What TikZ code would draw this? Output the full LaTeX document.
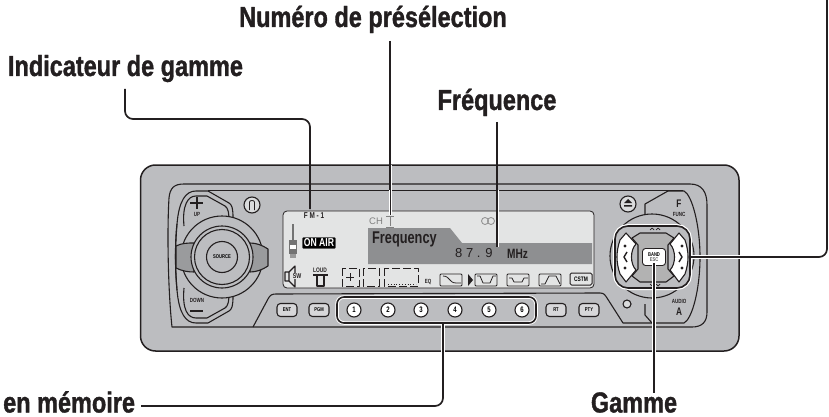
\documentclass[tikz,border=0pt]{standalone}
\usepackage{fontspec}
\setmainfont{Liberation Sans}
\newfontfamily\lab[FakeStretch=0.81,FakeBold=1.2]{Liberation Sans Bold}
\newfontfamily\sml[FakeStretch=0.75]{Liberation Sans Bold}
\definecolor{body}{HTML}{BCBDC0}
\definecolor{ink}{HTML}{231F20}
\definecolor{lcd}{HTML}{E3E4E4}
\definecolor{band}{HTML}{8E8F91}
\begin{document}
\begin{tikzpicture}[x=1pt,y=-1pt,line join=round,
  label/.style={font=\lab\fontsize{29}{29}\selectfont,text=ink,inner sep=0pt,anchor=base},
  edge/.style={draw=ink,line width=1.1pt},
  thin edge/.style={draw=ink,line width=.8pt},
  leader/.style={draw=ink,line width=1.7pt,rounded corners=8pt},
  halo/.style={draw=white,line width=3pt},
  tiny/.style={font=\sml\fontsize{6}{6}\selectfont,text=ink,inner sep=0pt},
  minor/.style={font=\sml\fontsize{8}{8}\selectfont,text=ink,inner sep=0pt},
  softkey/.style={draw=ink,line width=1.1pt,fill=body!60!white,rounded corners=3.5pt,minimum width=20pt,minimum height=13pt,inner sep=0pt,font=\sml\fontsize{5.5}{5.5}\selectfont},
  preset/.style={circle,draw=ink,line width=1.1pt,fill=white,minimum size=14pt,inner sep=0pt,font=\sml\fontsize{8}{8}\selectfont},
  eqkey/.style={draw=ink,line width=.8pt,rounded corners=1pt,fill=lcd,minimum width=22pt,minimum height=12pt,inner sep=0pt}]
\useasboundingbox (0,0) rectangle (829,417);
\fill[white] (0,0) rectangle (829,417);
% body
\draw[fill=body,draw=ink,line width=1.5pt,rounded corners=15pt] (140.5,165) rectangle (739,351);
% panel outlines
\draw[edge] (172,327) .. controls (168,290) and (167,230) .. (169,198) .. controls (170,188) and (174,184) .. (184,184) -- (690,184) .. controls (702,184) and (707,192) .. (707,205) -- (707,312) .. controls (707,322) and (702,327) .. (692,327) -- cycle;
\draw[edge] (208,190.5) -- (683,190.5);
\draw[edge] (668,191) -- (645,204) -- (645,214);
\draw[edge] (668,191) -- (684,191) .. controls (692,195) and (700,225) .. (700,257) .. controls (700,290) and (692,319) .. (684,323) -- (652,323) -- (645,315) -- (645,304);
\draw[edge] (253,327) -- (268,299) .. controls (270,295) and (272,294) .. (276,294) -- (600,293) .. controls (604,293) and (605,295) .. (607,298) -- (623,323) -- (652,323);
% up/down key
\draw[edge] (177,290) .. controls (175,265) and (175,240) .. (177,224) .. controls (179,200) and (186,191) .. (196,191) -- (208,191) -- (229,203) .. controls (232,205) and (233,208) .. (233,218);
\draw[edge] (177,224) .. controls (175,250) and (175,270) .. (177,290) .. controls (179,314) and (186,323) .. (196,323) -- (208,323) -- (229,311) .. controls (232,309) and (233,306) .. (233,296);
\draw[edge] (184,226) .. controls (182,205) and (188,196) .. (196,196) -- (207,196) -- (225,206) .. controls (228,208) and (229,212) .. (229,222);
\draw[edge] (184,288) .. controls (182,310) and (188,318) .. (196,318) -- (207,318) -- (225,308) .. controls (228,306) and (229,302) .. (229,292);
\draw[edge] (190,203) -- (203,203) (197,197) -- (197,209);
\draw[edge] (190,311) -- (203,311);
\node[tiny] (up) at (197,214) {UP};
\node[tiny] (down) at (197,300) {DOWN};
% knob rings and wings
\node[circle,edge,fill=body,minimum size=82pt,inner sep=0pt] (knobA) at (222,257) {};
\draw[edge,fill=body!82!black] (176,246) .. controls (182,243) and (188,243) .. (194,243) -- (194,272) .. controls (188,272) and (182,271) .. (176,268) -- cycle;
\draw[edge,fill=body!82!black] (268,249) .. controls (262,245) and (256,243) .. (250,243) -- (250,272) .. controls (256,272) and (262,270) .. (268,266) -- cycle;
\node[circle,edge,fill=body,minimum size=62pt,inner sep=0pt] (knobB) at (222,257) {};
\node[circle,edge,fill=body,minimum size=55pt,inner sep=0pt] (knobC) at (222,257) {};
\node[circle,edge,fill=body,minimum size=31pt,inner sep=0pt,font=\sml\fontsize{5.5}{5.5}\selectfont] (source) at (222,257) {SOURCE};
\node[circle,edge,fill=body!55!white,minimum size=16pt,inner sep=0pt] (power) at (252,205) {};
\draw[thin edge] (249.5,210) -- (249.5,202) .. controls (249.5,200) and (254.5,200) .. (254.5,202) -- (254.5,210);
% display
\draw[draw=ink,line width=.8pt,fill=lcd,rounded corners=4pt] (283,211) rectangle (594,288);
\fill[band] (368,228) -- (450,228) -- (462,243) -- (592,243) -- (592,264) -- (368,264) -- cycle;
\node[minor,font=\sml\fontsize{8.5}{8.5}\selectfont] (fm) at (314,216) {F M - 1};
\node[font=\fontsize{9.5}{9.5}\selectfont,text=black!50,inner sep=0pt] (ch) at (376,221) {CH};
\draw[draw=black!50,line width=.6pt] (386,216) -- (394,216) (390,216) -- (390,226) (386,227) -- (394,227);
\draw[draw=black!45,line width=.8pt] (485,221) circle (3.5pt) (491,221) circle (3.5pt);
\node[font=\sml\fontsize{17}{17}\selectfont,text=ink,inner sep=0pt,anchor=west] (freqword) at (372,239) {Frequency};
\node[font=\fontsize{13}{13}\selectfont,text=ink,inner sep=0pt,anchor=west] (freqval) at (455,253) {8 7 . 9};
\node[font=\sml\fontsize{13.5}{13.5}\selectfont,text=ink,inner sep=0pt,anchor=west] (mhz) at (507,254) {MHz};
% on air
\draw[draw=black!55,line width=1.2pt] (293,224) -- (293,240);
\fill[black!55] (289,240) rectangle (297,254);
\fill[white] (290,245) rectangle (296,249);
\fill[black!40] (290,254) rectangle (296,258);
\node[draw=black!60,fill=black,text=white,font=\sml\fontsize{11.5}{11.5}\selectfont,inner sep=1.5pt,rounded corners=1pt] (onair) at (319,243) {ON AIR};
% speaker
\draw[edge] (285,272) rectangle (289,281) (289,272) -- (295,266) -- (295,287) -- (289,281);
\node[tiny,font=\sml\fontsize{7}{7}\selectfont,fill=lcd,inner sep=.5pt] (sw) at (297,276) {SW};
\node[tiny,font=\sml\fontsize{6.5}{6.5}\selectfont] (loud) at (320,270) {LOUD};
\draw[edge] (313,275) -- (328,275) (317,275) -- (317,286) -- (324,286) -- (324,275);
% sound field brackets
\draw[thin edge,dash pattern=on 8pt off 3pt] (342,268) rectangle (359,286);
\draw[thin edge] (346,277) -- (354,277) (350,273) -- (350,281);
\draw[thin edge,dash pattern=on 8pt off 3pt] (363,268) rectangle (379,286);
\draw[thin edge,dash pattern=on 8pt off 3pt] (384,268) rectangle (418,286);
\draw[thin edge,dotted] (388,284) -- (416,284);
\node[tiny] (eq) at (428,282) {EQ};
% eq curves
\node[eqkey] (eqA) at (451,280) {};
\draw[thin edge] (443,276) .. controls (450,276) and (449,283) .. (456,283) -- (461,283);
\fill[ink] (468,274) -- (473,280) -- (468,286) -- cycle;
\node[eqkey] (eqB) at (486,280) {};
\draw[thin edge] (477,276) -- (480,276) -- (483,283) -- (490,283) -- (493,276) -- (496,276);
\node[eqkey] (eqC) at (518,280) {};
\draw[thin edge] (509,278) -- (512,278) -- (514,282) -- (522,282) -- (524,278) -- (528,278);
\node[eqkey] (eqD) at (550,280) {};
\draw[thin edge] (541,284) -- (545,284) -- (549,276) -- (556,276) -- (560,284);
\node[draw=ink,line width=1pt,rounded corners=1.5pt,fill=lcd,minimum width=22pt,minimum height=12pt,inner sep=0pt,font=\sml\fontsize{6.5}{6.5}\selectfont] (cstm) at (581,279) {CSTM};
% lower keys
\node[softkey] (ent) at (287,310) {ENT};
\node[softkey] (pgm) at (319,310) {PGM};
\node[softkey] (rt) at (556,310) {RT};
\node[softkey] (pty) at (589,310) {PTY};
\draw[draw=white,line width=3.5pt,rounded corners=7pt] (337,297) rectangle (536,323);
\draw[draw=ink,line width=1.6pt,rounded corners=7pt] (337,297) rectangle (536,323);
\foreach \n/\x in {1/354,2/388,3/421,4/455,5/489,6/522}
  \node[preset] (p\n) at (\x,310) {\n};
\node[circle,edge,fill=body!55!white,minimum size=8pt,inner sep=0pt] (dot) at (627,304) {};
% right cluster
\node[circle,edge,minimum size=84pt,fill=body,inner sep=0pt] (ringA) at (652,256) {};
\draw[draw=white,line width=4pt,rounded corners=13pt] (615,226) rectangle (690,288);
\draw[draw=ink,line width=1.6pt,rounded corners=13pt,fill=body] (615,226) rectangle (690,288);
\draw[edge,fill=white] (620,240) -- (626,233) -- (636,244) .. controls (630,250) and (630,264) .. (636,270) -- (626,282) -- (620,274) .. controls (616,262) and (616,252) .. (620,240) -- cycle;
\draw[edge,fill=white] (685,240) -- (679,233) -- (670,244) .. controls (676,250) and (676,264) .. (670,270) -- (679,282) -- (685,274) .. controls (689,262) and (689,252) .. (685,240) -- cycle;
\draw[edge,fill=black!30] (632,238) -- (640,233) -- (666,233) -- (674,238) -- (668,245) -- (668,269) -- (674,276) -- (666,282) -- (640,282) -- (632,276) -- (638,269) -- (638,245) -- cycle;
\fill[ink] (625,246) circle (1.6pt) (625,268) circle (1.6pt) (682,246) circle (1.6pt) (682,268) circle (1.6pt);
\draw[ink,line width=1.4pt] (627,252) -- (624,257) -- (627,262) (679,252) -- (682,257) -- (679,262);
\draw[ink,line width=.7pt] (650,230) -- (652,228) -- (654,230) (656,230) -- (658,228) -- (660,230) (650,284) -- (652,286) -- (654,284) (656,284) -- (658,286) -- (660,284);
\node[draw=ink,line width=.9pt,fill=white,rounded corners=3pt,minimum width=23pt,minimum height=17pt,inner sep=0pt,align=center,font=\sml\fontsize{5.5}{6}\selectfont] (bandkey) at (654,257) {BAND\\[-.5pt]{\color{black!60}ESC}};
\node[circle,edge,fill=body!55!white,minimum size=16pt,inner sep=0pt] (eject) at (628,204) {};
\fill[ink] (624,203) -- (628,199) -- (632,203) -- cycle (624,205) rectangle (632,206.5);
\node[font=\sml\fontsize{11}{11}\selectfont,text=ink,inner sep=0pt] (keyF) at (679,204) {F};
\node[tiny] (func) at (679,214) {FUNC};
\node[tiny] (audio) at (679,301) {AUDIO};
\node[font=\sml\fontsize{11}{11}\selectfont,text=ink,inner sep=0pt] (keyA) at (679,312) {A};
% labels
\node[label] (numero) at (373,27) {Numéro de présélection};
\node[label] (indic) at (125.5,76) {Indicateur de gamme};
\node[label] (frequence) at (497,110) {Fréquence};
\node[label] (gamme) at (634,412.5) {Gamme};
\node[label,anchor=base west] (memoire) at (3,412.5) {en mémoire};
% leader ends
\coordinate (indicEnd) at (125,89);
\coordinate (indicTip) at (310,209);
\coordinate (numTop) at (390,41);
\coordinate (numTip) at (390,215);
\coordinate (freqTop) at (497,122);
\coordinate (freqTip) at (497,247);
\coordinate (gamTip) at (654,263);
\coordinate (gamBot) at (654,393);
\coordinate (memTip) at (443,324);
\coordinate (memStart) at (141,406);
\coordinate (topR) at (827,0);
\coordinate (clusterR) at (691,257);
% leaders
\draw[leader] (indicEnd) -- (125,119) -- (310,119) -- (indicTip);
\draw[halo] (390,165) -- (numTip);
\draw[draw=ink,line width=1.6pt] (numTop) -- (390,190);
\draw[draw=ink,line width=1pt] (390,190) -- (numTip);
\draw[halo] (497,190) -- (freqTip);
\draw[leader] (freqTop) -- (freqTip);
\draw[halo,line width=4pt] (654,263) -- (654,353);
\draw[leader] (gamTip) -- (gamBot);
\draw[halo,line width=4pt] (443,325) -- (443,353);
\draw[leader] (memStart) -- (443,406) -- (memTip);
\draw[halo,line width=4pt] (692,257) -- (741,257);
\draw[leader] (clusterR) -- (827,257) -- (topR);
\end{tikzpicture}
\end{document}
